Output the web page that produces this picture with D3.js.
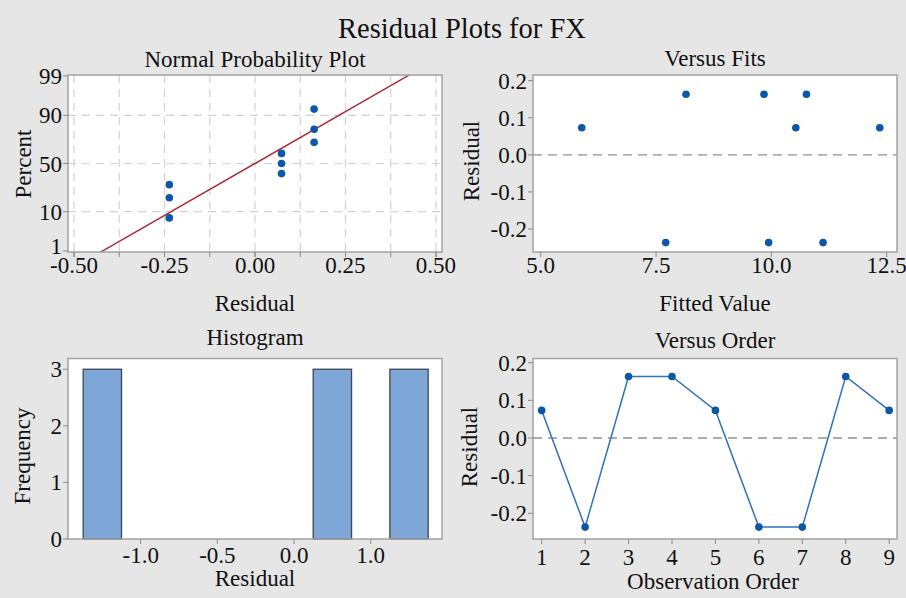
<!DOCTYPE html>
<html>
<head>
<meta charset="utf-8">
<script src="https://cdn.jsdelivr.net/npm/d3@7"></script>
<style>
  html, body { margin: 0; padding: 0; background: #e6e6e6; }
  svg { display: block; }
  text { font-family: "Liberation Serif", "Times New Roman", serif; fill: #111; }
</style>
</head>
<body>
<svg id="chart" width="906" height="598"></svg>
<script>
// ---------------- DATA ----------------
const mainTitle = "Residual Plots for FX";
const panelTitles = ["Normal Probability Plot", "Versus Fits", "Histogram", "Versus Order"];

// residuals in observation order
const observationOrder = [1, 2, 3, 4, 5, 6, 7, 8, 9];
const residuals = [0.0733, -0.2367, 0.1633, 0.1633, 0.0733, -0.2367, -0.2367, 0.1633, 0.0733];
const fittedValues = [5.89, 7.71, 8.15, 9.84, 10.53, 9.94, 11.12, 10.76, 12.35];

// normal probability plot (sorted residuals vs. plotted percent)
const normalResiduals = [-0.2367, -0.2367, -0.2367, 0.0733, 0.0733, 0.0733, 0.1633, 0.1633, 0.1633];
const normalPercents = [7.4, 18.1, 28.7, 39.4, 50.0, 60.6, 71.3, 81.9, 92.6];
const fitLineMean = 0.0;
const fitLineStDev = 0.181;
const normalPercentTicks = [1, 10, 50, 90, 99];
const normalPercentGrid = [10, 50, 90];
const normalResidualTicks = [-0.50, -0.25, 0.00, 0.25, 0.50];
const normalResidualGrid = [-0.5, -0.375, -0.25, -0.125, 0, 0.125, 0.25, 0.375, 0.5];

// histogram
const histBinStart = [-1.375, 0.125, 0.625];
const histBinEnd = [-1.125, 0.375, 0.875];
const histCounts = [3, 3, 3];
const histTickValues = [-1.0, -0.5, 0.0, 0.5];
const histTickLabels = ["-1.0", "-0.5", "0.0", "1.0"];
const histFreqTicks = [0, 1, 2, 3];

// other ticks
const residualTicks = [0.2, 0.1, 0.0, -0.1, -0.2];
const fitTicks = [5.0, 7.5, 10.0, 12.5];

// ---------------- HELPERS ----------------
function probit(p) {
  const a=[-3.969683028665376e+01,2.209460984245205e+02,-2.759285104469687e+02,1.383577518672690e+02,-3.066479806614716e+01,2.506628277459239e+00];
  const b=[-5.447609879822406e+01,1.615858368580409e+02,-1.556989798598866e+02,6.680131188771972e+01,-1.328068155288572e+01];
  const c=[-7.784894002430293e-03,-3.223964580411365e-01,-2.400758277161838e+00,-2.549732539343734e+00,4.374664141464968e+00,2.938163982698783e+00];
  const d=[7.784695709041462e-03,3.224671290700398e-01,2.445134137142996e+00,3.754408661907416e+00];
  const pl=0.02425, ph=1-pl;
  if (p < pl) { const q=Math.sqrt(-2*Math.log(p)); return (((((c[0]*q+c[1])*q+c[2])*q+c[3])*q+c[4])*q+c[5])/((((d[0]*q+d[1])*q+d[2])*q+d[3])*q+1); }
  if (p <= ph) { const q=p-0.5, r=q*q; return (((((a[0]*r+a[1])*r+a[2])*r+a[3])*r+a[4])*r+a[5])*q/(((((b[0]*r+b[1])*r+b[2])*r+b[3])*r+b[4])*r+1); }
  const q=Math.sqrt(-2*Math.log(1-p)); return -(((((c[0]*q+c[1])*q+c[2])*q+c[3])*q+c[4])*q+c[5])/((((d[0]*q+d[1])*q+d[2])*q+d[3])*q+1);
}

const svg = d3.select("#chart");
const FONT = 23;
const BORDER = "#a3a3a3";
const TICKC = "#8a8a8a";
const DOT = "#0b57a8";

svg.append("rect").attr("width", 906).attr("height", 598).attr("fill", "#e6e6e6");

svg.append("text").attr("x", 462).attr("y", 38).attr("text-anchor", "middle")
  .style("font-size", "28.5px").text(mainTitle);

// panel boxes
const P = {
  npp:  {x0: 68,  x1: 442, y0: 75,    y1: 252},
  fits: {x0: 533, x1: 897, y0: 75,    y1: 252},
  hist: {x0: 68,  x1: 442, y0: 358.5, y1: 539},
  ord:  {x0: 533, x1: 897, y0: 358.5, y1: 539}
};

function panelBase(p, id) {
  const g = svg.append("g");
  g.append("rect").attr("x", p.x0).attr("y", p.y0).attr("width", p.x1 - p.x0).attr("height", p.y1 - p.y0)
    .attr("fill", "#ffffff");
  svg.append("clipPath").attr("id", id).append("rect")
    .attr("x", p.x0).attr("y", p.y0).attr("width", p.x1 - p.x0).attr("height", p.y1 - p.y0);
  return g;
}
function panelBorder(p) {
  svg.append("rect").attr("x", p.x0).attr("y", p.y0).attr("width", p.x1 - p.x0).attr("height", p.y1 - p.y0)
    .attr("fill", "none").attr("stroke", BORDER).attr("stroke-width", 1.5);
}
function xTicks(p, scale, values, labels, labelY) {
  values.forEach((v, i) => {
    const x = scale(v);
    svg.append("line").attr("x1", x).attr("x2", x).attr("y1", p.y1).attr("y2", p.y1 + 5)
      .attr("stroke", TICKC).attr("stroke-width", 1);
    svg.append("text").attr("x", x).attr("y", labelY).attr("text-anchor", "middle")
      .style("font-size", FONT + "px").text(labels[i]);
  });
}
function yTicks(p, scale, values, labels, shiftFn) {
  values.forEach((v, i) => {
    const y = scale(v);
    const s = shiftFn ? shiftFn(v) : 0;
    svg.append("line").attr("x1", p.x0 - 5).attr("x2", p.x0).attr("y1", y).attr("y2", y)
      .attr("stroke", TICKC).attr("stroke-width", 1);
    svg.append("text").attr("x", p.x0 - 6).attr("y", y + s).attr("dy", "0.35em").attr("text-anchor", "end")
      .style("font-size", FONT + "px").text(labels[i]);
  });
}
function panelTitle(p, t, y) {
  svg.append("text").attr("x", (p.x0 + p.x1) / 2).attr("y", y).attr("text-anchor", "middle")
    .style("font-size", FONT + "px").text(t);
}
function xTitle(x, y, t) {
  svg.append("text").attr("x", x).attr("y", y).attr("text-anchor", "middle")
    .style("font-size", FONT + "px").text(t);
}
function yTitle(x, y, t) {
  svg.append("text").attr("transform", `translate(${x},${y}) rotate(-90)`).attr("text-anchor", "middle")
    .style("font-size", FONT + "px").text(t);
}

// ---------------- NORMAL PROBABILITY PLOT ----------------
{
  const p = P.npp;
  const g = panelBase(p, "clipNpp");
  const x = d3.scaleLinear().domain([-0.5166, 0.5166]).range([p.x0, p.x1]);
  const zTop = probit(0.9907), zBot = probit(0.0093);
  const y = d3.scaleLinear().domain([zBot, zTop]).range([p.y1, p.y0]);
  const yP = pct => y(probit(pct / 100));

  g.selectAll(".vg").data(normalResidualGrid).enter().append("line")
    .attr("x1", d => x(d)).attr("x2", d => x(d)).attr("y1", p.y0).attr("y2", p.y1)
    .attr("stroke", "#d2d2d2").attr("stroke-width", 1.2).attr("stroke-dasharray", "8,6");
  g.selectAll(".hg").data(normalPercentGrid).enter().append("line")
    .attr("x1", p.x0).attr("x2", p.x1).attr("y1", d => yP(d)).attr("y2", d => yP(d))
    .attr("stroke", "#d2d2d2").attr("stroke-width", 1.2).attr("stroke-dasharray", "8,6");

  // fitted normal line (z = (x - mean)/sd)
  const xa = fitLineMean + zBot * 1.05 * fitLineStDev, xb = fitLineMean + zTop * 1.05 * fitLineStDev;
  g.append("line").attr("clip-path", "url(#clipNpp)")
    .attr("x1", x(xa)).attr("y1", y((xa - fitLineMean) / fitLineStDev))
    .attr("x2", x(xb)).attr("y2", y((xb - fitLineMean) / fitLineStDev))
    .attr("stroke", "#a8282c").attr("stroke-width", 1.4);

  g.selectAll(".pt").data(normalResiduals).enter().append("circle")
    .attr("cx", d => x(d)).attr("cy", (d, i) => yP(normalPercents[i])).attr("r", 3.8).attr("fill", DOT);

  panelBorder(p);
  // minor ticks on x
  normalResidualGrid.forEach(v => {
    svg.append("line").attr("x1", x(v)).attr("x2", x(v)).attr("y1", p.y1).attr("y2", p.y1 + 5)
      .attr("stroke", TICKC).attr("stroke-width", 1);
  });
  xTicks(p, x, normalResidualTicks, normalResidualTicks.map(d => d.toFixed(2)), 273);
  yTicks(p, yP, normalPercentTicks, normalPercentTicks.map(String), v => (v === 1 ? -5 : 0));
  panelTitle(p, panelTitles[0], 67);
  xTitle(255, 311, "Residual");
  yTitle(31, 164, "Percent");
}

// ---------------- VERSUS FITS ----------------
{
  const p = P.fits;
  const g = panelBase(p, "clipFits");
  const x = d3.scaleLinear().domain([4.833, 12.723]).range([p.x0, p.x1]);
  const y = d3.scaleLinear().domain([-0.262, 0.2154]).range([p.y1, p.y0]);
  g.append("line").attr("x1", p.x0).attr("x2", p.x1).attr("y1", y(0)).attr("y2", y(0))
    .attr("stroke", "#939393").attr("stroke-width", 1.3).attr("stroke-dasharray", "9,6");
  g.selectAll(".pt").data(residuals).enter().append("circle")
    .attr("cx", (d, i) => x(fittedValues[i])).attr("cy", d => y(d)).attr("r", 3.8).attr("fill", DOT);
  panelBorder(p);
  xTicks(p, x, fitTicks, fitTicks.map(d => d.toFixed(1)), 273);
  yTicks(p, y, residualTicks, residualTicks.map(d => d.toFixed(1)));
  panelTitle(p, panelTitles[1], 66);
  xTitle(715, 311, "Fitted Value");
  yTitle(479, 161, "Residual");
}

// ---------------- HISTOGRAM ----------------
{
  const p = P.hist;
  const g = panelBase(p, "clipHist");
  const x = d3.scaleLinear().domain([-1.474, 0.965]).range([p.x0, p.x1]);
  const y = d3.scaleLinear().domain([0, 3.19]).range([p.y1, p.y0]);
  g.selectAll(".bar").data(histCounts).enter().append("rect")
    .attr("x", (d, i) => x(histBinStart[i])).attr("width", (d, i) => x(histBinEnd[i]) - x(histBinStart[i]))
    .attr("y", d => y(d)).attr("height", d => y(0) - y(d))
    .attr("fill", "#7ea7d8").attr("stroke", "#3d4656").attr("stroke-width", 1.3);
  panelBorder(p);
  xTicks(p, x, histTickValues, histTickLabels, 563);
  yTicks(p, y, histFreqTicks, histFreqTicks.map(String));
  panelTitle(p, panelTitles[2], 345);
  xTitle(255, 586, "Residual");
  yTitle(30, 456, "Frequency");
}

// ---------------- VERSUS ORDER ----------------
{
  const p = P.ord;
  const g = panelBase(p, "clipOrd");
  const x = d3.scaleLinear().domain([0.8, 9.18]).range([p.x0, p.x1]);
  const y = d3.scaleLinear().domain([-0.2683, 0.2112]).range([p.y1, p.y0]);
  g.append("line").attr("x1", p.x0).attr("x2", p.x1).attr("y1", y(0)).attr("y2", y(0))
    .attr("stroke", "#939393").attr("stroke-width", 1.3).attr("stroke-dasharray", "9,6");
  const line = d3.line().x((d, i) => x(observationOrder[i])).y(d => y(d));
  g.append("path").datum(residuals).attr("d", line).attr("fill", "none")
    .attr("stroke", "#2f70bd").attr("stroke-width", 1.5);
  g.selectAll(".pt").data(residuals).enter().append("circle")
    .attr("cx", (d, i) => x(observationOrder[i])).attr("cy", d => y(d)).attr("r", 3.8).attr("fill", DOT);
  panelBorder(p);
  xTicks(p, x, observationOrder, observationOrder.map(String), 565);
  yTicks(p, y, residualTicks, residualTicks.map(d => d.toFixed(1)));
  panelTitle(p, panelTitles[3], 348);
  xTitle(713, 589, "Observation Order");
  yTitle(477, 447, "Residual");
}
</script>
</body>
</html>
